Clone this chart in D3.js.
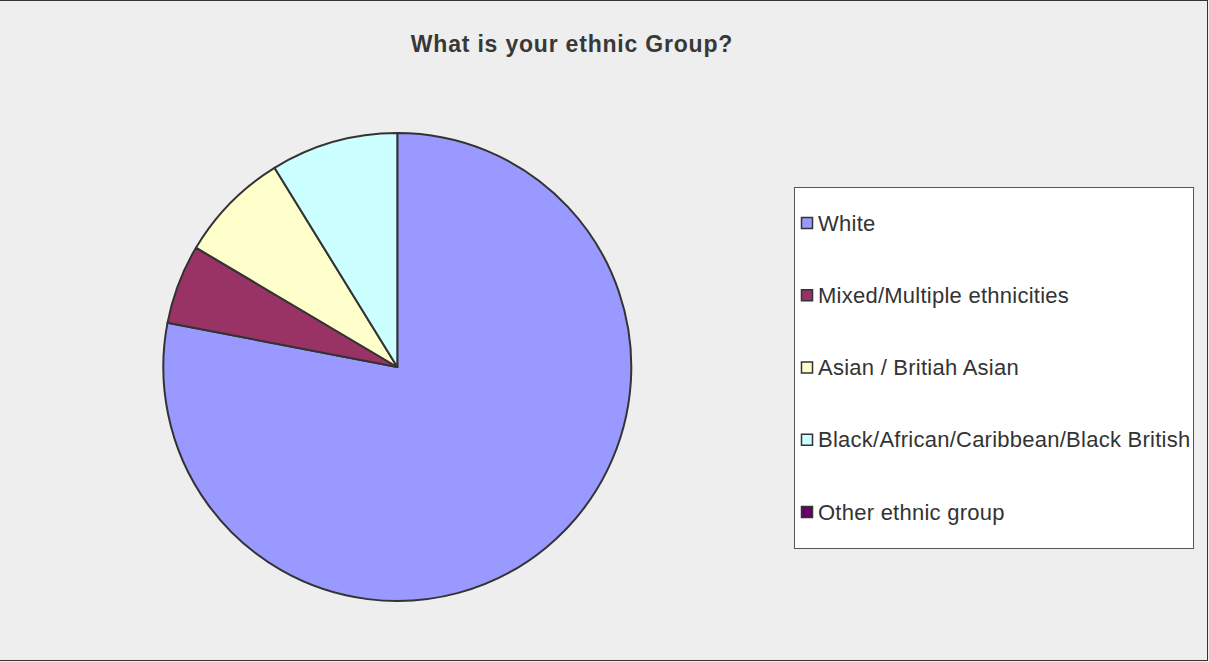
<!DOCTYPE html>
<html><head><meta charset="utf-8">
<script src="https://cdn.jsdelivr.net/npm/d3@7"></script>
<style>html,body{margin:0;padding:0;background:#eeeeee;}svg{display:block;}</style>
</head><body>
<svg id="chart" width="1209" height="662"></svg>
<script>
const title = "What is your ethnic Group?";
const categories = ["White", "Mixed/Multiple ethnicities", "Asian / Britiah Asian", "Black/African/Caribbean/Black British", "Other ethnic group"];
const values = [71, 5, 7, 8, 0];
const colors = ["#9999ff", "#993366", "#ffffcc", "#ccffff", "#660066"];

const svg = d3.select("#chart");
const W = 1209, H = 662;
svg.append("rect").attr("x", -1).attr("y", 0.5).attr("width", W - 0.5).attr("height", H - 2)
  .attr("fill", "#eeeeee").attr("stroke", "#333").attr("stroke-width", 1);

svg.append("text").attr("x", 572).attr("y", 52).attr("text-anchor", "middle")
  .attr("font-family", "Liberation Sans, Arial, sans-serif").attr("font-size", 23).attr("font-weight", "bold")
  .attr("letter-spacing", 0.8)
  .attr("fill", "#383838").text(title);

const data = categories.map((c, i) => ({cat: c, value: values[i], color: colors[i]}));
const pie = d3.pie().value(d => d.value).sort(null);
const arc = d3.arc().innerRadius(0).outerRadius(234);
const g = svg.append("g").attr("transform", "translate(397.3,367)");
g.selectAll("path").data(pie(data).filter(d => d.data.value > 0)).join("path")
  .attr("d", arc).attr("fill", d => d.data.color)
  .attr("stroke", "#333").attr("stroke-width", 2).attr("stroke-linejoin", "round");

const legend = svg.append("g");
legend.append("rect").attr("x", 794.5).attr("y", 187.5).attr("width", 399).attr("height", 361)
  .attr("fill", "#fff").attr("stroke", "#555").attr("stroke-width", 1);
const ly = d3.scalePoint().domain(categories).range([223, 512]);
const items = legend.selectAll("g.item").data(data).join("g").attr("class", "item")
  .attr("transform", d => `translate(0,${ly(d.cat)})`);
items.append("rect").attr("x", 801.5).attr("y", -5.5).attr("width", 11).attr("height", 11)
  .attr("fill", d => d.color).attr("stroke", "#333").attr("stroke-width", 1.5);
items.append("text").attr("x", 818).attr("y", 7.5).attr("font-family", "Liberation Sans, Arial, sans-serif")
  .attr("font-size", 22).attr("letter-spacing", 0.25).attr("fill", "#333").text(d => d.cat);
</script>
</body></html>
